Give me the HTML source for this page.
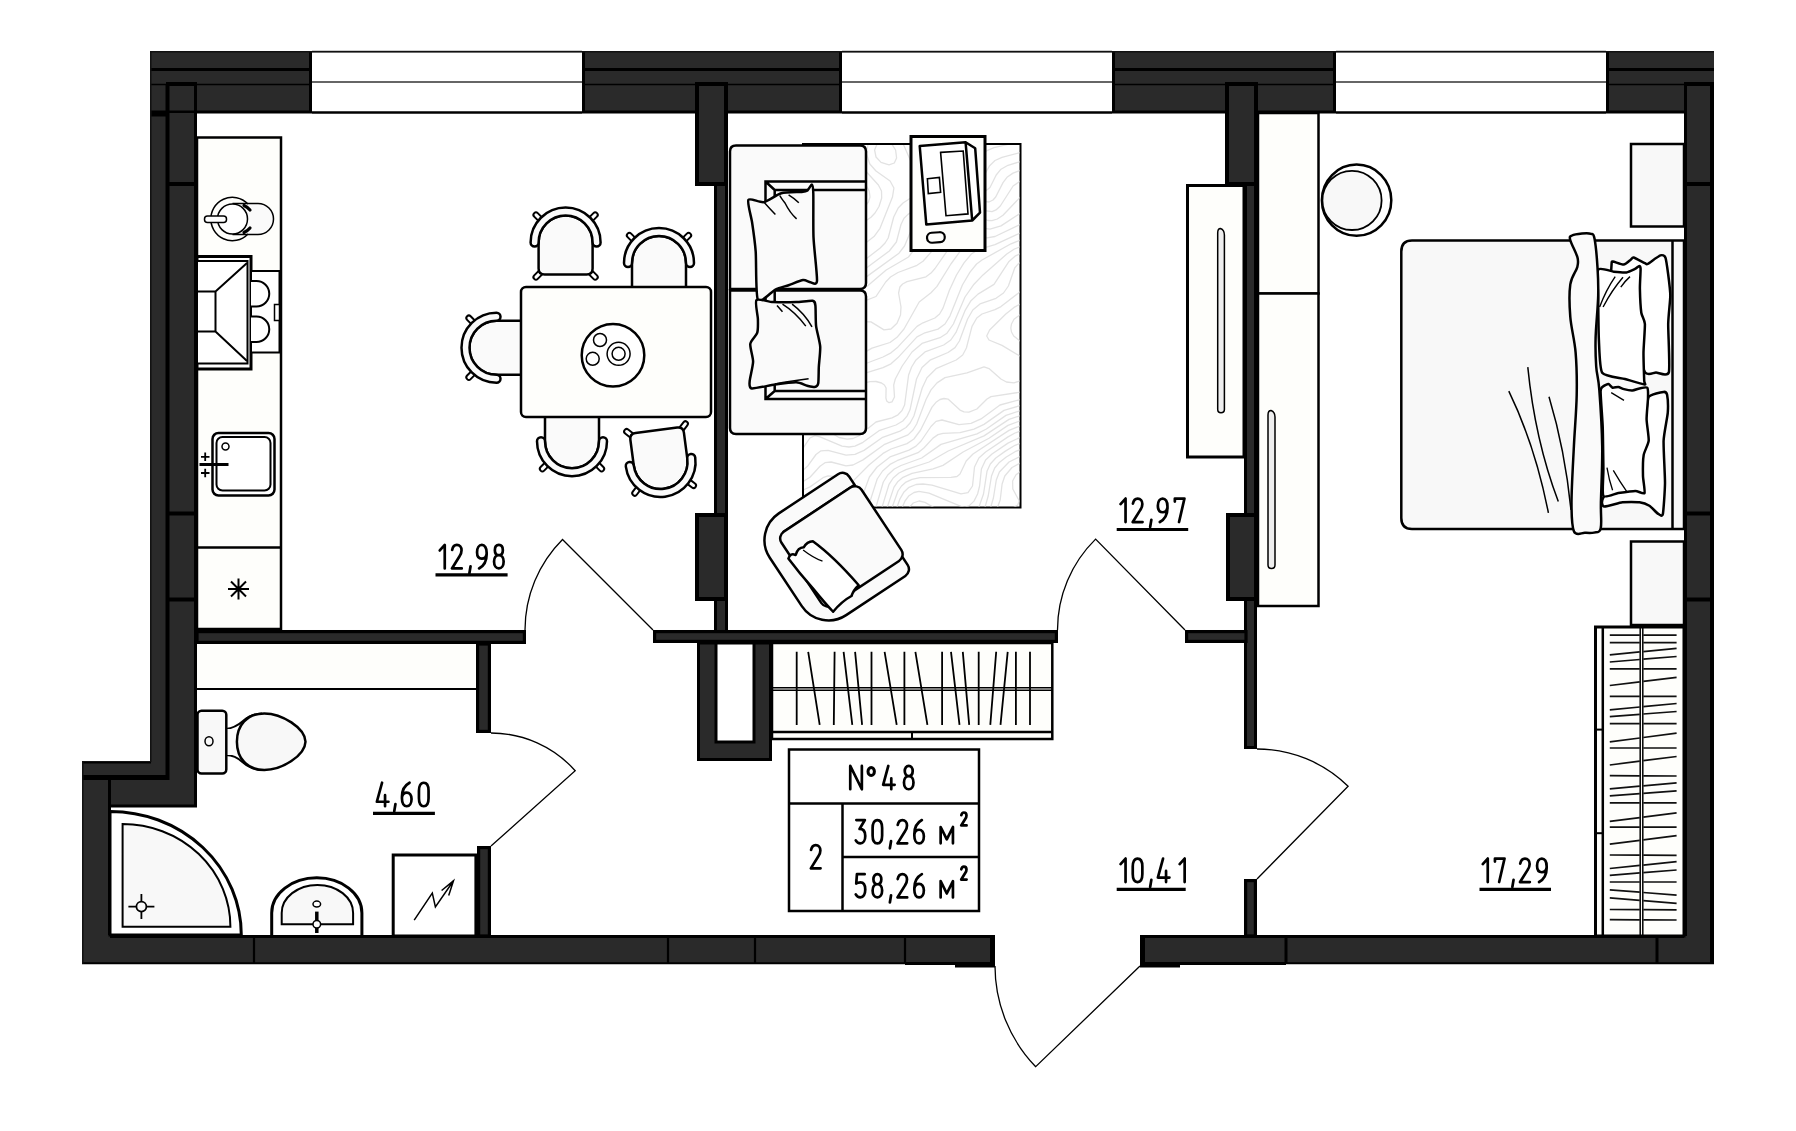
<!DOCTYPE html>
<html><head><meta charset="utf-8"><style>
html,body{margin:0;padding:0;background:#fff;}
svg{display:block;}
text{font-family:"Liberation Sans",sans-serif;}
</style></head><body>
<svg width="1796" height="1131" viewBox="0 0 1796 1131">
<rect x="0" y="0" width="1796" height="1131" fill="#fff"/>
<rect x="150" y="51" width="162" height="62" fill="#2a2a2a"/>
<line x1="150" y1="69.5" x2="312" y2="69.5" stroke="#000" stroke-width="3" />
<line x1="150" y1="84.5" x2="312" y2="84.5" stroke="#000" stroke-width="1.5" />
<line x1="150" y1="112" x2="312" y2="112" stroke="#000" stroke-width="3" />
<line x1="310.5" y1="51" x2="310.5" y2="113" stroke="#000" stroke-width="3" />
<rect x="582" y="51" width="260" height="62" fill="#2a2a2a"/>
<line x1="582" y1="69.5" x2="842" y2="69.5" stroke="#000" stroke-width="3" />
<line x1="582" y1="84.5" x2="842" y2="84.5" stroke="#000" stroke-width="1.5" />
<line x1="582" y1="112" x2="842" y2="112" stroke="#000" stroke-width="3" />
<line x1="583.5" y1="51" x2="583.5" y2="113" stroke="#000" stroke-width="3" />
<line x1="840.5" y1="51" x2="840.5" y2="113" stroke="#000" stroke-width="3" />
<rect x="1112" y="51" width="224" height="62" fill="#2a2a2a"/>
<line x1="1112" y1="69.5" x2="1336" y2="69.5" stroke="#000" stroke-width="3" />
<line x1="1112" y1="84.5" x2="1336" y2="84.5" stroke="#000" stroke-width="1.5" />
<line x1="1112" y1="112" x2="1336" y2="112" stroke="#000" stroke-width="3" />
<line x1="1113.5" y1="51" x2="1113.5" y2="113" stroke="#000" stroke-width="3" />
<line x1="1334.5" y1="51" x2="1334.5" y2="113" stroke="#000" stroke-width="3" />
<rect x="1606" y="51" width="108" height="62" fill="#2a2a2a"/>
<line x1="1606" y1="69.5" x2="1714" y2="69.5" stroke="#000" stroke-width="3" />
<line x1="1606" y1="84.5" x2="1714" y2="84.5" stroke="#000" stroke-width="1.5" />
<line x1="1606" y1="112" x2="1714" y2="112" stroke="#000" stroke-width="3" />
<line x1="1607.5" y1="51" x2="1607.5" y2="113" stroke="#000" stroke-width="3" />
<line x1="312" y1="51.5" x2="582" y2="51.5" stroke="#333" stroke-width="1.5" />
<line x1="312" y1="82" x2="582" y2="82" stroke="#333" stroke-width="1.5" />
<line x1="312" y1="112.5" x2="582" y2="112.5" stroke="#000" stroke-width="2.5" />
<line x1="842" y1="51.5" x2="1112" y2="51.5" stroke="#333" stroke-width="1.5" />
<line x1="842" y1="82" x2="1112" y2="82" stroke="#333" stroke-width="1.5" />
<line x1="842" y1="112.5" x2="1112" y2="112.5" stroke="#000" stroke-width="2.5" />
<line x1="1336" y1="51.5" x2="1606" y2="51.5" stroke="#333" stroke-width="1.5" />
<line x1="1336" y1="82" x2="1606" y2="82" stroke="#333" stroke-width="1.5" />
<line x1="1336" y1="112.5" x2="1606" y2="112.5" stroke="#000" stroke-width="2.5" />
<rect x="150" y="113" width="47" height="694" fill="#2a2a2a"/>
<rect x="82" y="761" width="115" height="46" fill="#2a2a2a"/>
<rect x="82" y="761" width="29" height="203" fill="#2a2a2a"/>
<line x1="167.5" y1="84" x2="167.5" y2="780" stroke="#000" stroke-width="4" />
<line x1="195.5" y1="84" x2="195.5" y2="807" stroke="#000" stroke-width="3" />
<line x1="166" y1="84" x2="197" y2="84" stroke="#000" stroke-width="4" />
<line x1="150" y1="114" x2="166" y2="114" stroke="#000" stroke-width="5" />
<line x1="166" y1="184" x2="197" y2="184" stroke="#000" stroke-width="4" />
<line x1="166" y1="513.5" x2="197" y2="513.5" stroke="#000" stroke-width="4" />
<line x1="166" y1="599.5" x2="197" y2="599.5" stroke="#000" stroke-width="4" />
<line x1="82" y1="777.5" x2="169" y2="777.5" stroke="#000" stroke-width="5" />
<line x1="82" y1="762.5" x2="151" y2="762.5" stroke="#000" stroke-width="2" />
<line x1="111" y1="806" x2="197" y2="806" stroke="#000" stroke-width="3" />
<line x1="109.5" y1="780" x2="109.5" y2="936" stroke="#000" stroke-width="3" />
<rect x="82" y="935" width="913" height="29" fill="#2a2a2a"/>
<line x1="110" y1="936.5" x2="995" y2="936.5" stroke="#000" stroke-width="3" />
<line x1="254" y1="935" x2="254" y2="964" stroke="#000" stroke-width="2.2" />
<line x1="668" y1="935" x2="668" y2="964" stroke="#000" stroke-width="2.2" />
<line x1="755" y1="935" x2="755" y2="964" stroke="#000" stroke-width="2.2" />
<line x1="905" y1="935" x2="905" y2="964" stroke="#000" stroke-width="2.2" />
<line x1="992.5" y1="935" x2="992.5" y2="967" stroke="#000" stroke-width="5" />
<line x1="905" y1="963.5" x2="995" y2="963.5" stroke="#000" stroke-width="3" />
<line x1="955" y1="966" x2="995" y2="966" stroke="#000" stroke-width="3" />
<rect x="1140" y="935" width="574" height="29" fill="#2a2a2a"/>
<line x1="1140" y1="936.5" x2="1714" y2="936.5" stroke="#000" stroke-width="3" />
<line x1="1142.5" y1="935" x2="1142.5" y2="967" stroke="#000" stroke-width="5" />
<line x1="1140" y1="963.5" x2="1286" y2="963.5" stroke="#000" stroke-width="3" />
<line x1="1140" y1="966" x2="1180" y2="966" stroke="#000" stroke-width="3" />
<line x1="1286" y1="935" x2="1286" y2="964" stroke="#000" stroke-width="3" />
<line x1="1657" y1="935" x2="1657" y2="964" stroke="#000" stroke-width="3" />
<rect x="1684" y="82" width="30" height="882" fill="#2a2a2a"/>
<line x1="1685.5" y1="82" x2="1685.5" y2="936" stroke="#000" stroke-width="3" />
<line x1="1712" y1="82" x2="1712" y2="964" stroke="#000" stroke-width="4" />
<line x1="1684" y1="84" x2="1714" y2="84" stroke="#000" stroke-width="4" />
<line x1="1684" y1="184" x2="1714" y2="184" stroke="#000" stroke-width="4" />
<line x1="1684" y1="513.5" x2="1714" y2="513.5" stroke="#000" stroke-width="4" />
<line x1="1684" y1="599.5" x2="1714" y2="599.5" stroke="#000" stroke-width="4" />
<line x1="82" y1="963.2" x2="995" y2="963.2" stroke="#000" stroke-width="2" />
<line x1="1140" y1="963.2" x2="1714" y2="963.2" stroke="#000" stroke-width="2" />
<line x1="150" y1="51.8" x2="1714" y2="51.8" stroke="#111" stroke-width="1.5" />
<line x1="150.8" y1="51" x2="150.8" y2="762" stroke="#111" stroke-width="1.5" />
<line x1="82.8" y1="761" x2="82.8" y2="964" stroke="#111" stroke-width="1.5" />
<rect x="695" y="82" width="33" height="104" fill="#2a2a2a"/>
<rect x="697" y="84" width="29" height="100" rx="0" fill="none" stroke="#000" stroke-width="4" />
<rect x="714" y="186" width="14" height="444" fill="#2a2a2a"/>
<line x1="715.5" y1="186" x2="715.5" y2="513" stroke="#000" stroke-width="3" />
<line x1="726.5" y1="186" x2="726.5" y2="630" stroke="#000" stroke-width="3" />
<rect x="695" y="513" width="33" height="88" fill="#2a2a2a"/>
<rect x="697" y="515" width="29" height="84" rx="0" fill="none" stroke="#000" stroke-width="4" />
<line x1="715.5" y1="601" x2="715.5" y2="630" stroke="#000" stroke-width="3" />
<rect x="1225" y="82" width="33" height="104" fill="#2a2a2a"/>
<rect x="1227" y="84" width="29" height="100" rx="0" fill="none" stroke="#000" stroke-width="4" />
<rect x="1244" y="186" width="13" height="563" fill="#2a2a2a"/>
<line x1="1245.5" y1="186" x2="1245.5" y2="749" stroke="#000" stroke-width="3" />
<line x1="1255.5" y1="186" x2="1255.5" y2="749" stroke="#000" stroke-width="3" />
<line x1="1244" y1="747.5" x2="1257" y2="747.5" stroke="#000" stroke-width="3" />
<rect x="1226" y="513" width="32" height="88" fill="#2a2a2a"/>
<rect x="1228" y="515" width="28" height="84" rx="0" fill="none" stroke="#000" stroke-width="4" />
<rect x="1244" y="879" width="13" height="57" fill="#2a2a2a"/>
<rect x="1245.6" y="880.6" width="9.800000000000182" height="55.39999999999998" rx="0" fill="none" stroke="#000" stroke-width="3.2" />
<rect x="197" y="630" width="329" height="14" fill="#2a2a2a"/>
<rect x="197" y="631.6" width="327.4" height="10.799999999999955" rx="0" fill="none" stroke="#000" stroke-width="3.2" />
<rect x="476" y="644" width="15" height="89" fill="#2a2a2a"/>
<rect x="477.6" y="644" width="11.799999999999955" height="87.39999999999998" rx="0" fill="none" stroke="#000" stroke-width="3.2" />
<rect x="653" y="630" width="405" height="13" fill="#2a2a2a"/>
<rect x="654.6" y="631.6" width="401.80000000000007" height="9.799999999999955" rx="0" fill="none" stroke="#000" stroke-width="3.2" />
<rect x="1185" y="630" width="61" height="13" fill="#2a2a2a"/>
<rect x="1186.6" y="631.6" width="59.40000000000009" height="9.799999999999955" rx="0" fill="none" stroke="#000" stroke-width="3.2" />
<rect x="697" y="643" width="75" height="118" fill="#2a2a2a"/>
<rect x="698.5" y="643" width="72.0" height="116.5" rx="0" fill="none" stroke="#000" stroke-width="3" />
<rect x="716" y="643" width="38" height="99" rx="0" fill="#fff" stroke="#000" stroke-width="3" />
<rect x="477" y="846" width="14" height="90" fill="#2a2a2a"/>
<rect x="478.6" y="847.6" width="10.799999999999955" height="88.39999999999998" rx="0" fill="none" stroke="#000" stroke-width="3.2" />
<rect x="197" y="137.5" width="84" height="491.5" rx="0" fill="#fefefb" stroke="#000" stroke-width="2.5" />
<line x1="197" y1="547.5" x2="281" y2="547.5" stroke="#000" stroke-width="2.5" />
<path d="M232.5,203.5 L258,203.5 A15.5,15.5 0 0 1 258,234.5 L232.5,234.5" fill="#fafafa" stroke="#000" stroke-width="1.5" />
<circle cx="232.5" cy="219" r="15" fill="#fff" stroke="#000" stroke-width="1.5"/>
<path d="M211,221 A21.5,21.5 0 0 1 248,204 M211,217 A21.5,21.5 0 0 0 248,234" fill="none" stroke="#000" stroke-width="1.5" />
<path d="M244,205.5 A17,17 0 0 1 250,210 M244,232.5 A17,17 0 0 0 250,228" fill="none" stroke="#000" stroke-width="3.2" stroke-linecap="round"/>
<rect x="204.5" y="216" width="22.0" height="6.5" rx="3" fill="#fff" stroke="#000" stroke-width="1.5" />
<rect x="197" y="256.5" width="54" height="112.5" rx="0" fill="#fff" stroke="#000" stroke-width="3" />
<rect x="197" y="261" width="50.5" height="102.5" rx="0" fill="#fff" stroke="#000" stroke-width="2" />
<path d="M197,291.5 L215.5,291.5 L247,263 M215.5,291.5 L215.5,331.5 L197,331.5 M215.5,331.5 L247,361" fill="none" stroke="#000" stroke-width="2" />
<rect x="251" y="271" width="28.5" height="81.5" rx="0" fill="#fff" stroke="#000" stroke-width="2" />
<path d="M251,281 L256.5,281 A12.75,12.75 0 0 1 256.5,306.5 L251,306.5 M251,316.5 L256.5,316.5 A12.75,12.75 0 0 1 256.5,342 L251,342" fill="#fff" stroke="#000" stroke-width="2" />
<rect x="274.5" y="304.5" width="5.0" height="16.0" rx="0" fill="#fff" stroke="#000" stroke-width="1.5" />
<rect x="212.5" y="433" width="62.0" height="62.5" rx="6" fill="#fff" stroke="#000" stroke-width="2.5" />
<rect x="216.5" y="437" width="54.0" height="53.5" rx="6" fill="#fff" stroke="#000" stroke-width="2" />
<circle cx="225.5" cy="446.5" r="3.5" fill="#fff" stroke="#000" stroke-width="1.5"/>
<line x1="199.5" y1="464.5" x2="228.5" y2="464.5" stroke="#000" stroke-width="3" />
<path d="M201,456.8 h8.5 M205.2,452.5 v8.5 M201,473 h8.5 M205.2,468.8 v8.5" fill="none" stroke="#000" stroke-width="1.8" />
<path d="M228,589 h21 M238.5,578.5 v21 M231,581.5 l15,15 M246,581.5 l-15,15" fill="none" stroke="#000" stroke-width="2" />
<g transform="translate(565.6,243.5) rotate(0)"><rect x="-33.0" y="-29.0" width="11" height="5" rx="2.5" transform="rotate(45 -27.5 -26.5)" fill="#fff" stroke="#000" stroke-width="2"/><rect x="22.0" y="-29.0" width="11" height="5" rx="2.5" transform="rotate(-45 27.5 -26.5)" fill="#fff" stroke="#000" stroke-width="2"/><rect x="-33.0" y="29.0" width="11" height="5" rx="2.5" transform="rotate(-45 -27.5 31.5)" fill="#fff" stroke="#000" stroke-width="2"/><rect x="22.0" y="29.0" width="11" height="5" rx="2.5" transform="rotate(45 27.5 31.5)" fill="#fff" stroke="#000" stroke-width="2"/><path d="M-27,-1 A27,27 0 0 1 27,-1 L27,25 Q27,31 21,31 L-21,31 Q-27,31 -27,25 Z" fill="#fafafa" stroke="#000" stroke-width="2.5"/><path d="M-35,-1 A35,35 0 0 1 35,-1 A4,4 0 0 1 27,-1 A27,27 0 0 0 -27,-1 A4,4 0 0 1 -35,-1 Z" fill="#fafafa" stroke="#000" stroke-width="2.5" stroke-linejoin="round"/></g>
<g transform="translate(659,264) rotate(0)"><rect x="-33.0" y="-29.0" width="11" height="5" rx="2.5" transform="rotate(45 -27.5 -26.5)" fill="#fff" stroke="#000" stroke-width="2"/><rect x="22.0" y="-29.0" width="11" height="5" rx="2.5" transform="rotate(-45 27.5 -26.5)" fill="#fff" stroke="#000" stroke-width="2"/><rect x="-33.0" y="28.0" width="11" height="5" rx="2.5" transform="rotate(-45 -27.5 30.5)" fill="#fff" stroke="#000" stroke-width="2"/><rect x="22.0" y="28.0" width="11" height="5" rx="2.5" transform="rotate(45 27.5 30.5)" fill="#fff" stroke="#000" stroke-width="2"/><path d="M-27,-1 A27,27 0 0 1 27,-1 L27,24 Q27,30 21,30 L-21,30 Q-27,30 -27,24 Z" fill="#fafafa" stroke="#000" stroke-width="2.5"/><path d="M-35,-1 A35,35 0 0 1 35,-1 A4,4 0 0 1 27,-1 A27,27 0 0 0 -27,-1 A4,4 0 0 1 -35,-1 Z" fill="#fafafa" stroke="#000" stroke-width="2.5" stroke-linejoin="round"/></g>
<g transform="translate(497.5,347.7) rotate(-90)"><rect x="-33.0" y="-29.0" width="11" height="5" rx="2.5" transform="rotate(45 -27.5 -26.5)" fill="#fff" stroke="#000" stroke-width="2"/><rect x="22.0" y="-29.0" width="11" height="5" rx="2.5" transform="rotate(-45 27.5 -26.5)" fill="#fff" stroke="#000" stroke-width="2"/><rect x="-33.0" y="28.0" width="11" height="5" rx="2.5" transform="rotate(-45 -27.5 30.5)" fill="#fff" stroke="#000" stroke-width="2"/><rect x="22.0" y="28.0" width="11" height="5" rx="2.5" transform="rotate(45 27.5 30.5)" fill="#fff" stroke="#000" stroke-width="2"/><path d="M-27,-1 A27,27 0 0 1 27,-1 L27,24 Q27,30 21,30 L-21,30 Q-27,30 -27,24 Z" fill="#fafafa" stroke="#000" stroke-width="2.5"/><path d="M-35,-1 A35,35 0 0 1 35,-1 A4,4 0 0 1 27,-1 A27,27 0 0 0 -27,-1 A4,4 0 0 1 -35,-1 Z" fill="#fafafa" stroke="#000" stroke-width="2.5" stroke-linejoin="round"/></g>
<g transform="translate(572,440.2) rotate(180)"><rect x="-33.0" y="-29.0" width="11" height="5" rx="2.5" transform="rotate(45 -27.5 -26.5)" fill="#fff" stroke="#000" stroke-width="2"/><rect x="22.0" y="-29.0" width="11" height="5" rx="2.5" transform="rotate(-45 27.5 -26.5)" fill="#fff" stroke="#000" stroke-width="2"/><rect x="-33.0" y="28.0" width="11" height="5" rx="2.5" transform="rotate(-45 -27.5 30.5)" fill="#fff" stroke="#000" stroke-width="2"/><rect x="22.0" y="28.0" width="11" height="5" rx="2.5" transform="rotate(45 27.5 30.5)" fill="#fff" stroke="#000" stroke-width="2"/><path d="M-27,-1 A27,27 0 0 1 27,-1 L27,24 Q27,30 21,30 L-21,30 Q-27,30 -27,24 Z" fill="#fafafa" stroke="#000" stroke-width="2.5"/><path d="M-35,-1 A35,35 0 0 1 35,-1 A4,4 0 0 1 27,-1 A27,27 0 0 0 -27,-1 A4,4 0 0 1 -35,-1 Z" fill="#fafafa" stroke="#000" stroke-width="2.5" stroke-linejoin="round"/></g>
<g transform="translate(660.4,461) rotate(172.5)"><rect x="-33.0" y="-29.0" width="11" height="5" rx="2.5" transform="rotate(45 -27.5 -26.5)" fill="#fff" stroke="#000" stroke-width="2"/><rect x="22.0" y="-29.0" width="11" height="5" rx="2.5" transform="rotate(-45 27.5 -26.5)" fill="#fff" stroke="#000" stroke-width="2"/><rect x="-33.0" y="29.0" width="11" height="5" rx="2.5" transform="rotate(-45 -27.5 31.5)" fill="#fff" stroke="#000" stroke-width="2"/><rect x="22.0" y="29.0" width="11" height="5" rx="2.5" transform="rotate(45 27.5 31.5)" fill="#fff" stroke="#000" stroke-width="2"/><path d="M-27,-1 A27,27 0 0 1 27,-1 L27,25 Q27,31 21,31 L-21,31 Q-27,31 -27,25 Z" fill="#fafafa" stroke="#000" stroke-width="2.5"/><path d="M-35,-1 A35,35 0 0 1 35,-1 A4,4 0 0 1 27,-1 A27,27 0 0 0 -27,-1 A4,4 0 0 1 -35,-1 Z" fill="#fafafa" stroke="#000" stroke-width="2.5" stroke-linejoin="round"/></g>
<rect x="521" y="287" width="190" height="130" rx="5" fill="#fefefb" stroke="#000" stroke-width="2.5" />
<circle cx="613" cy="355.2" r="31.3" fill="#fff" stroke="#000" stroke-width="2.5"/>
<circle cx="600" cy="340" r="6.5" fill="none" stroke="#000" stroke-width="1.5"/>
<circle cx="592.7" cy="358.8" r="6.5" fill="none" stroke="#000" stroke-width="1.5"/>
<circle cx="618.6" cy="353.8" r="11.5" fill="none" stroke="#000" stroke-width="1.5"/>
<circle cx="618.6" cy="353.8" r="6.5" fill="none" stroke="#000" stroke-width="1.5"/>
<g>
<rect x="803" y="144" width="217.5" height="363.5" rx="0" fill="#fff" stroke="#000" stroke-width="2" />
<clipPath id="rugclip"><rect x="804" y="145" width="215.5" height="361.5"/></clipPath>
<g clip-path="url(#rugclip)" stroke="#e2e2e2" stroke-width="1.3" fill="none" stroke-linejoin="round">
<path d="M814.1,143.0 L828.0,149.6 L832.0,150.5 L836.0,148.6 L841.3,143.0 M803.0,226.8 L813.0,221.5 L830.0,216.2 L837.1,212.0 L846.0,202.0 L848.1,197.0 L848.9,191.0 L847.7,184.0 L844.0,175.6 L839.0,168.9 L834.0,166.1 L829.0,168.5 L817.0,182.2 L812.0,186.5 L807.0,187.8 L803.0,186.3 M803.0,241.6 L839.0,220.4 L849.1,211.0 L856.4,201.0 L858.2,195.0 L857.9,189.0 L849.6,166.0 L847.8,158.0 L848.1,151.0 L850.3,143.0 M803.0,255.9 L843.0,226.8 L862.9,209.0 L868.4,202.0 L870.0,197.0 L869.2,191.0 L859.0,172.0 L855.3,161.0 L854.6,152.0 L856.4,143.0 M919.3,143.0 L926.0,151.0 L930.0,153.0 L935.0,153.8 L944.8,151.0 L954.1,143.0 M803.0,268.4 L811.0,263.6 L826.0,250.8 L842.0,239.9 L858.0,226.1 L871.0,217.2 L875.0,213.0 L879.0,206.5 L881.7,198.0 L881.5,191.0 L878.4,185.0 L867.0,172.5 L862.8,165.0 L860.4,154.0 L862.0,143.0 M911.1,143.0 L916.0,152.5 L921.0,158.6 L927.0,161.9 L935.0,162.9 L950.0,161.6 L958.0,159.1 L972.6,143.0 M803.0,278.9 L812.0,274.0 L832.0,259.4 L859.2,248.0 L874.0,236.6 L880.0,228.3 L892.5,197.0 L893.9,188.0 L890.1,181.0 L876.0,171.0 L869.8,164.0 L866.6,154.0 L868.1,143.0 M902.8,143.0 L912.0,164.1 L918.0,170.4 L925.0,171.7 L946.0,170.4 L964.0,172.6 L969.0,172.0 L973.0,169.5 L980.9,156.0 L987.0,150.6 L994.0,147.7 L1013.8,143.0 M891.1,143.0 L895.6,150.0 L896.6,158.0 L894.3,163.0 L889.0,164.8 L881.0,162.4 L876.0,157.0 L874.6,150.0 L877.5,143.0 M803.0,289.7 L812.0,284.8 L832.0,270.5 L839.0,267.6 L860.0,262.3 L867.3,258.0 L880.2,248.0 L885.1,243.0 L888.2,238.0 L893.7,217.0 L898.2,208.0 L903.0,203.0 L915.0,195.3 L924.3,185.0 L929.0,181.2 L936.6,178.0 L945.0,177.1 L970.0,182.1 L978.0,181.7 L982.8,178.0 L989.4,166.0 L995.0,160.5 L1002.0,157.4 L1022.0,152.1 M803.0,301.2 L814.0,295.5 L835.3,279.0 L842.0,276.3 L858.0,272.4 L865.0,269.1 L889.3,251.0 L896.4,242.0 L901.0,224.5 L904.0,218.3 L908.0,214.4 L920.0,206.6 L930.4,191.0 L935.9,186.0 L942.0,183.6 L950.0,183.4 L977.0,191.4 L985.0,191.6 L990.0,187.5 L996.2,175.0 L1001.0,169.2 L1008.0,165.3 L1022.0,161.1 M803.0,310.8 L821.4,303.0 L841.0,286.7 L866.0,277.1 L899.0,253.2 L904.5,246.0 L911.7,229.0 L924.0,217.2 L934.0,197.8 L940.0,191.4 L947.0,189.1 L955.0,189.8 L965.0,193.2 L982.0,201.2 L989.0,202.0 L993.0,200.0 L995.7,197.0 L1003.0,182.6 L1007.0,177.3 L1013.0,173.1 L1022.0,169.7 M803.0,318.2 L827.0,312.4 L833.0,310.1 L848.0,295.2 L868.0,285.6 L886.2,270.0 L908.5,257.0 L929.0,230.5 L932.0,223.9 L937.6,205.0 L940.6,200.0 L944.0,196.9 L950.0,195.1 L958.0,196.2 L967.1,200.0 L984.0,210.5 L992.0,211.6 L996.0,209.9 L1000.3,206.0 L1013.1,186.0 L1022.0,179.9 M803.0,324.8 L821.0,322.4 L838.0,326.3 L842.0,325.8 L845.9,322.0 L855.0,306.8 L861.0,302.4 L876.0,296.5 L885.7,282.0 L890.5,277.0 L898.0,272.5 L917.0,265.3 L923.0,261.3 L933.0,249.9 L939.5,240.0 L941.4,233.0 L942.5,213.0 L944.8,207.0 L948.0,203.6 L954.0,202.0 L961.0,203.5 L968.0,207.3 L983.0,218.7 L988.0,220.5 L992.0,220.6 L997.3,219.0 L1003.0,215.2 L1022.0,195.3 M803.0,331.3 L814.0,329.7 L822.2,331.0 L828.8,335.0 L839.0,345.4 L845.0,347.5 L849.0,346.4 L852.8,343.0 L860.0,326.9 L865.0,321.6 L871.0,321.9 L884.0,329.9 L891.0,329.0 L897.0,323.3 L900.5,315.0 L901.0,307.0 L898.6,293.0 L899.9,287.0 L902.6,284.0 L907.0,281.6 L926.0,276.8 L931.0,273.1 L935.0,268.5 L948.6,249.0 L952.1,242.0 L953.5,234.0 L952.1,219.0 L954.0,214.0 L957.0,212.4 L962.0,213.2 L979.0,226.1 L984.0,228.3 L990.0,229.1 L1001.0,225.9 L1022.0,212.2 M803.0,339.3 L812.0,337.9 L819.0,339.6 L824.0,343.8 L833.4,357.0 L838.0,359.7 L843.0,360.7 L853.0,358.9 L872.0,348.1 L890.0,342.5 L897.0,337.3 L904.0,329.0 L919.2,302.0 L931.0,292.8 L937.0,286.4 L950.9,264.0 L968.0,240.5 L974.0,237.6 L987.0,237.9 L995.0,236.5 L1022.0,223.6 M803.0,377.0 L815.0,366.0 L833.0,370.3 L845.0,370.0 L861.9,365.0 L883.0,357.0 L891.0,352.8 L898.0,346.9 L917.0,326.4 L923.0,322.8 L934.9,318.0 L939.6,314.0 L943.0,308.1 L949.5,290.0 L956.5,275.0 L964.0,262.8 L971.4,254.0 L978.0,249.6 L995.0,244.7 L1022.0,232.2 M803.0,390.1 L841.0,380.6 L883.0,367.6 L891.0,363.8 L898.0,357.6 L917.0,336.9 L924.0,333.2 L938.0,329.1 L945.0,324.0 L950.0,315.8 L962.4,285.0 L970.0,272.1 L976.6,264.0 L982.0,260.0 L1011.0,243.8 L1022.0,239.5 M803.0,400.3 L814.0,398.4 L819.0,399.1 L823.3,401.0 L826.7,405.0 L831.0,418.0 L834.4,424.0 L840.0,428.8 L846.0,430.4 L851.0,429.6 L855.4,427.0 L858.9,423.0 L861.3,418.0 L861.2,410.0 L852.5,395.0 L853.6,390.0 L858.0,385.9 L863.9,383.0 L870.0,381.6 L876.0,381.5 L881.5,383.0 L884.4,385.0 L886.1,388.0 L885.9,398.0 L886.7,401.0 L889.0,402.7 L892.0,401.9 L894.5,397.0 L893.7,385.0 L895.3,379.0 L902.2,366.0 L912.0,352.0 L922.0,343.4 L940.0,337.7 L947.0,333.2 L953.4,324.0 L965.0,297.0 L974.0,284.2 L983.0,274.9 L1006.8,254.0 L1014.4,249.0 L1022.0,246.1 M803.0,413.0 L809.0,411.5 L814.0,412.8 L818.0,416.3 L825.5,427.0 L831.4,433.0 L839.0,437.5 L847.0,439.2 L853.0,438.5 L858.6,436.0 L876.0,422.0 L892.0,417.8 L898.0,414.8 L902.0,410.5 L904.6,405.0 L908.6,375.0 L911.6,367.0 L916.0,359.9 L925.0,351.9 L943.7,345.0 L950.8,340.0 L956.0,332.4 L965.0,310.7 L971.0,300.7 L978.0,294.1 L994.0,284.4 L1009.0,261.4 L1015.0,256.2 L1022.0,252.9 M803.0,448.2 L809.9,438.0 L815.0,435.7 L820.0,436.8 L842.0,446.2 L849.0,447.0 L855.0,446.1 L863.0,442.3 L879.0,430.7 L896.0,425.0 L902.8,421.0 L907.0,416.1 L910.0,409.8 L916.5,379.0 L922.0,367.5 L930.0,360.2 L948.0,352.5 L955.0,347.6 L959.4,341.0 L967.6,319.0 L972.8,310.0 L980.0,303.9 L996.0,298.3 L1003.5,293.0 L1008.4,286.0 L1014.7,268.0 L1018.0,264.1 L1022.0,261.5 M803.0,470.2 L808.0,465.7 L816.0,454.5 L821.0,450.8 L828.0,450.4 L846.0,455.2 L855.0,454.4 L864.0,450.4 L882.0,437.7 L900.0,431.1 L906.0,427.5 L910.1,423.0 L913.9,416.0 L922.2,388.0 L927.0,377.7 L936.0,368.7 L956.2,360.0 L962.7,355.0 L966.4,348.0 L972.0,326.3 L976.8,318.0 L982.0,314.0 L995.0,309.7 L1001.0,306.6 L1022.0,290.3 M1022.0,357.3 L1002.0,345.4 L989.0,340.0 L986.7,336.0 L989.6,330.0 L1005.8,314.0 L1014.0,307.4 L1022.0,303.1 M803.0,481.6 L810.0,477.3 L820.0,466.3 L825.0,462.7 L831.1,462.0 L846.0,465.8 L853.0,465.0 L863.0,459.9 L884.0,444.7 L908.0,434.9 L913.0,430.0 L916.7,424.0 L926.0,399.5 L931.0,389.9 L937.0,382.9 L945.0,377.6 L967.0,372.9 L984.0,366.8 L989.0,368.6 L1000.9,379.0 L1006.4,382.0 L1014.0,382.9 L1022.0,380.2 M1022.0,342.6 L1013.7,336.0 L1011.5,332.0 L1010.8,328.0 L1011.5,324.0 L1014.0,319.3 L1022.0,313.2 M803.0,490.1 L810.0,486.9 L823.0,477.7 L828.0,475.9 L834.0,476.5 L847.0,482.1 L853.0,481.1 L869.0,465.0 L883.0,453.4 L891.0,449.0 L907.0,443.6 L913.9,439.0 L920.6,430.0 L932.0,407.1 L936.0,402.3 L940.0,399.5 L944.0,398.5 L948.0,399.1 L960.0,410.1 L964.0,411.9 L969.0,412.2 L976.9,409.0 L987.0,399.0 L991.0,396.6 L1022.0,391.9 M803.0,498.4 L822.0,488.9 L829.0,487.8 L837.0,491.1 L851.0,502.5 L854.0,503.5 L857.0,502.9 L862.0,497.1 L869.4,477.0 L877.1,467.0 L890.0,456.9 L909.0,450.1 L916.0,446.1 L921.1,441.0 L931.0,426.5 L936.0,421.4 L942.0,420.0 L959.0,424.6 L971.0,423.3 L981.0,418.9 L1000.0,405.0 L1022.0,399.1 M867.9,508.0 L877.2,479.0 L882.6,471.0 L890.0,464.4 L897.0,460.7 L918.0,452.7 L923.9,448.0 L933.0,438.1 L938.0,434.6 L943.0,433.4 L960.0,432.6 L974.0,429.2 L984.0,424.4 L1004.0,410.4 L1022.0,405.0 M806.2,508.0 L818.0,500.3 L826.0,498.1 L833.0,500.3 L840.7,508.0 M875.7,508.0 L883.3,482.0 L888.0,474.7 L894.3,469.0 L901.0,465.5 L921.7,458.0 L941.0,444.4 L977.0,433.9 L986.4,429.0 L1006.0,415.4 L1022.0,410.1 M881.8,508.0 L889.0,484.4 L893.2,478.0 L899.0,473.0 L906.0,469.6 L929.1,462.0 L948.2,451.0 L984.0,435.9 L1009.0,419.4 L1022.0,415.1 M887.0,508.0 L894.0,487.1 L898.0,481.4 L903.0,477.3 L912.0,473.4 L933.0,468.9 L943.0,465.4 L963.1,452.0 L989.0,438.3 L1008.0,425.4 L1022.0,420.1 M891.9,508.0 L898.0,491.0 L901.5,486.0 L906.0,482.1 L912.0,479.3 L920.0,477.6 L951.0,477.4 L957.0,476.5 L960.0,474.0 L966.2,461.0 L973.0,454.0 L1009.0,430.4 L1022.0,425.2 M896.7,508.0 L900.0,498.8 L904.0,491.9 L909.0,487.3 L916.0,484.5 L923.0,484.0 L932.0,485.2 L961.0,493.9 L968.0,492.7 L972.5,486.0 L974.5,467.0 L978.9,458.0 L985.6,452.0 L1008.0,436.9 L1015.0,433.0 L1022.0,430.6 M902.0,508.0 L905.0,501.0 L909.0,495.7 L914.0,492.5 L919.0,491.4 L929.0,493.1 L961.0,506.4 L965.0,507.1 L969.0,505.9 L974.0,501.1 L977.6,494.0 L979.6,486.0 L981.4,469.0 L985.6,460.0 L992.0,454.0 L1008.0,443.1 L1022.0,436.5 M978.6,508.0 L983.5,494.0 L987.0,471.3 L990.3,464.0 L995.8,458.0 L1005.0,451.4 L1015.0,445.3 L1022.0,442.7 M908.9,508.0 L913.2,503.0 L919.0,501.0 L925.0,502.4 L934.6,508.0 M984.8,508.0 L988.2,496.0 L991.5,476.0 L994.7,468.0 L999.0,462.8 L1006.3,457.0 L1015.0,451.7 L1022.0,449.0 M990.5,508.0 L993.4,498.0 L996.3,480.0 L999.4,472.0 L1009.0,462.0 L1022.0,455.4 M997.2,508.0 L1000.2,500.0 L1002.1,484.0 L1004.8,476.0 L1012.0,467.5 L1022.0,462.1 M1012.9,508.0 L1017.7,505.0 L1019.3,501.0 L1012.8,489.0 L1012.6,481.0 L1016.0,474.7 L1022.0,470.4"/>
</g></g>
<path d="M736,145.5 H860 Q866,145.5 866,151.5 V283 Q866,289 860,289 H730 V151.5 Q730,145.5 736,145.5 Z" fill="#fafafa" stroke="#000" stroke-width="2.5" />
<path d="M730,290.5 H860 Q866,290.5 866,296.5 V428 Q866,434 860,434 H736 Q730,434 730,428 Z" fill="#fafafa" stroke="#000" stroke-width="2.5" />
<path d="M866,181.5 H765.5 V399 H866 M866,190 H774.7 V391 H866 M765.5,181.5 L774.7,190 M765.5,399 L774.7,391" fill="none" stroke="#000" stroke-width="2.5" />
<path d="M748.4,199.9 C749.8,197.5 760.0,202.9 763.8,202.1 C767.6,201.3 776.9,194.5 781.3,193.3 C785.7,192.1 798.6,192.2 801.7,191.9 C804.8,191.6 806.3,191.3 807.5,190.4 C808.7,189.5 811.2,184.3 811.9,184.6 C812.6,184.9 813.1,187.2 813.3,193.3 C813.5,199.4 813.1,226.9 813.5,237.1 C813.9,247.3 817.4,275.6 817.0,280.9 C816.6,286.2 812.0,282.4 810.4,282.3 C808.8,282.2 805.6,279.8 803.1,280.1 C800.6,280.4 791.8,284.1 788.6,285.2 C785.4,286.3 779.0,287.9 775.4,289.6 C771.8,291.3 760.2,304.4 757.9,300.0 C755.6,295.6 756.4,260.7 755.7,251.7 C755.0,242.7 753.0,228.5 752.1,222.5 C751.2,216.5 747.0,202.3 748.4,199.9 Z" fill="#fafafa" stroke="#000" stroke-width="2.5" stroke-linejoin="round"/>
<path d="M763.8,202 Q770,209 775.4,214.5 M779.8,195.5 Q781,198 785,203 Q790,213 796.6,218.9 M788.6,194.8 Q794,198 798.8,202.8" fill="none" stroke="#000" stroke-width="1.5" />
<path d="M756.5,300.1 C758.3,298.1 768.4,301.9 773.0,302.1 C777.6,302.3 791.6,302.3 796.2,302.1 C800.8,301.9 810.5,300.4 812.7,300.8 C814.9,301.2 815.0,302.5 815.4,305.5 C815.8,308.5 815.5,321.3 816.1,326.1 C816.7,330.9 819.9,341.8 820.2,346.6 C820.5,351.4 819.0,362.9 818.8,367.2 C818.6,371.5 818.7,381.3 818.2,383.6 C817.7,385.9 816.0,386.8 814.7,387.0 C813.4,387.2 809.4,386.2 807.2,385.7 C805.0,385.2 800.0,382.4 796.2,382.3 C792.4,382.2 780.2,383.8 775.0,384.5 C769.8,385.2 754.7,388.8 751.7,388.4 C748.7,388.0 749.5,384.0 749.7,380.9 C749.9,377.8 753.0,366.0 753.1,361.7 C753.2,357.4 749.8,347.3 750.3,343.9 C750.8,340.5 756.3,335.8 757.2,332.9 C758.1,330.0 758.0,323.0 757.9,319.2 C757.8,315.4 754.7,302.1 756.5,300.1 Z" fill="#fafafa" stroke="#000" stroke-width="2.5" stroke-linejoin="round"/>
<path d="M777,305.5 L782.5,311.7 M782.5,304.2 Q795,312 805.8,326.1 M792.1,304.2 Q804,313 812,326.8 M808.6,378.8 Q790,381 775,384" fill="none" stroke="#000" stroke-width="1.5" />
<rect x="911" y="136.5" width="74" height="114.0" rx="0" fill="#fefefb" stroke="#000" stroke-width="3" />
<path d="M919.7,145.9 L965.6,142.3 L972.2,220.5 L926.3,224.6 Z M965.6,142.3 L975.2,148.3 L980,212.7 L972.2,220.5" fill="#fff" stroke="#000" stroke-width="2.5" stroke-linejoin="round"/>
<path d="M940.6,152.4 L963.2,151 L968,213.9 L946,215.7 Z" fill="none" stroke="#000" stroke-width="1.6" />
<path d="M927.4,178.7 L939.4,177.5 L940.6,192.4 L928.3,193.6 Z" fill="none" stroke="#000" stroke-width="1.6" />
<rect x="927" y="232.5" width="17.8" height="10" rx="5" transform="rotate(-4 935.7 237.5)" fill="none" stroke="#000" stroke-width="2.2"/>
<g transform="translate(832.5,551) rotate(-33.5)"><path d="M-24,-61 H47 A8,8 0 0 1 55,-53 V-43 H-30 V43 H55 V53 A8,8 0 0 1 47,61 H-24 A32,32 0 0 1 -56,29 V-29 A32,32 0 0 1 -24,-61 Z" fill="#fafafa" stroke="#000" stroke-width="2.5"/><path d="M-30,-43 H50 A8,8 0 0 1 58,-35 V37 A8,8 0 0 1 50,45 H-30 A8,8 0 0 1 -38,37 V-35 A8,8 0 0 1 -30,-43 Z" fill="#fafafa" stroke="#000" stroke-width="2.5"/><path d="M-41,-18 Q-36,-22 -33,-17 Q-27,-22 -22,-19 Q-16,-22 -11,-19 Q-2,5 3,43 Q-4,44 -9,48 Q-20,47 -33,51 Q-35,40 -37,20 Q-40,0 -41,-18 Z" fill="#fff" stroke="#000" stroke-width="2.5" stroke-linejoin="round"/><path d="M-24,-17 Q-20,-5 -14,3" fill="none" stroke="#000" stroke-width="1.3"/></g>
<rect x="1187.5" y="185.5" width="56.5" height="271.5" rx="0" fill="#fefefb" stroke="#000" stroke-width="3" />
<path d="M1217.7,409.5 V233 Q1217.7,228.5 1220.5,228.5 Q1224.4,230 1224.4,235 V409.5 Q1224.4,412.7 1221,412.7 Q1217.7,412.7 1217.7,409.5 Z" fill="#eee" stroke="#000" stroke-width="1.5" />
<rect x="1258" y="113" width="60.5" height="180.5" rx="0" fill="#fefefb" stroke="#000" stroke-width="2.5" />
<rect x="1258" y="293.5" width="60.5" height="312.5" rx="0" fill="#fefefb" stroke="#000" stroke-width="2.5" />
<path d="M1268,565 V415 Q1268,410.5 1271,410.5 Q1275,412 1275,417 V565 Q1275,568.5 1271.5,568.5 Q1268,568.5 1268,565 Z" fill="#eee" stroke="#000" stroke-width="1.5" />
<ellipse cx="1356.6" cy="200.2" rx="34.7" ry="35.6" fill="#fff" stroke="#000" stroke-width="2.5"/>
<circle cx="1352" cy="200.4" r="29.6" fill="#f8f8f8" stroke="#000" stroke-width="1.8"/>
<rect x="1631" y="144" width="53" height="82.5" rx="0" fill="#f8f8f8" stroke="#000" stroke-width="2.5" />
<rect x="1631" y="541.5" width="53" height="83.5" rx="0" fill="#f8f8f8" stroke="#000" stroke-width="2.5" />
<path d="M1412,240.5 H1684 V529 H1412 Q1401.3,529 1401.3,518 V251.5 Q1401.3,240.5 1412,240.5 Z" fill="#f8f8f8" stroke="#000" stroke-width="2.5" />
<line x1="1672.5" y1="240.5" x2="1672.5" y2="529" stroke="#000" stroke-width="2.5" />
<path d="M1508.8,391.1 Q1535,445 1548.4,512.8 M1527.8,367.1 Q1535,440 1558.3,501.5 M1549,396.8 Q1565,450 1571,510" fill="none" stroke="#000" stroke-width="1.5" />
<path d="M1611.6,263.9 C1611.7,261.0 1611.8,261.4 1613.0,261.5 C1614.2,261.6 1621.9,264.8 1623.7,264.6 C1625.5,264.4 1629.7,260.4 1630.7,259.7 C1631.7,259.0 1632.2,257.1 1633.6,257.5 C1635.0,257.9 1643.5,262.6 1644.9,263.2 C1646.3,263.8 1646.2,264.7 1647.7,263.9 C1649.2,263.1 1658.6,256.0 1660.4,255.4 C1662.2,254.8 1664.6,255.6 1665.4,257.5 C1666.2,259.4 1667.7,270.7 1668.2,274.5 C1668.7,278.3 1670.3,290.8 1670.3,295.7 C1670.3,300.6 1668.3,316.4 1668.2,324.0 C1668.1,331.6 1670.1,367.2 1668.9,372.1 C1667.7,377.0 1658.4,372.5 1656.0,372.5 C1653.6,372.5 1647.5,376.4 1644.9,372.1 C1642.3,367.9 1633.3,338.2 1630.0,330.0 C1626.7,321.8 1613.4,296.6 1611.6,290.0 C1609.8,283.4 1611.5,266.8 1611.6,263.9 Z" fill="#fff" stroke="#000" stroke-width="2.5" stroke-linejoin="round"/>
<path d="M1598.2,269.6 C1599.8,266.8 1611.0,271.4 1613.8,271.7 C1616.6,272.0 1624.4,272.7 1626.5,272.4 C1628.6,272.1 1633.7,269.5 1635.0,268.9 C1636.3,268.3 1638.6,266.0 1639.2,266.0 C1639.8,266.0 1640.5,266.6 1640.6,268.9 C1640.7,271.2 1639.8,284.3 1639.9,288.7 C1640.0,293.1 1640.8,309.2 1641.3,312.7 C1641.8,316.2 1644.7,320.0 1644.9,324.0 C1645.1,328.0 1643.6,346.6 1643.5,352.3 C1643.4,358.0 1644.1,377.4 1644.2,380.6 C1644.3,383.8 1646.4,384.7 1644.5,384.5 C1642.6,384.3 1629.2,380.2 1625.0,379.0 C1620.8,377.8 1604.8,376.7 1602.2,372.8 C1599.6,368.9 1599.3,347.3 1598.9,340.0 C1598.5,332.7 1598.3,307.0 1598.2,300.0 C1598.1,293.0 1596.6,272.4 1598.2,269.6 Z" fill="#fff" stroke="#000" stroke-width="2.5" stroke-linejoin="round"/>
<path d="M1599.6,307 Q1606,290 1615.2,276.6 M1603.1,307 Q1612,290 1623,277.3 M1620.8,287.2 Q1625,281 1630,276.6" fill="none" stroke="#000" stroke-width="1.4" />
<path d="M1648.7,396.9 C1650.6,394.1 1661.8,392.1 1663.6,391.9 C1665.4,391.7 1666.7,392.8 1667.1,394.8 C1667.5,396.9 1668.1,407.8 1667.8,412.4 C1667.5,417.0 1663.9,433.6 1663.6,440.7 C1663.3,447.8 1665.1,475.8 1665.0,483.2 C1664.9,490.6 1663.5,511.3 1662.8,514.3 C1662.1,517.3 1659.2,514.5 1657.9,513.6 C1656.6,512.8 1651.2,506.9 1649.4,505.8 C1647.6,504.7 1642.2,502.7 1639.5,502.3 C1636.8,501.9 1626.0,501.9 1622.5,502.3 C1619.0,502.7 1606.0,507.0 1604.1,506.5 C1602.2,506.0 1600.8,501.9 1603.4,497.3 C1606.0,492.7 1625.8,467.7 1630.0,460.0 C1634.2,452.3 1643.1,426.3 1645.0,420.0 C1646.9,413.7 1646.8,399.7 1648.7,396.9 Z" fill="#fff" stroke="#000" stroke-width="2.5" stroke-linejoin="round"/>
<path d="M1603.4,386.3 C1604.2,385.6 1607.5,384.0 1608.4,384.1 C1609.3,384.2 1611.6,387.4 1612.6,387.7 C1613.6,388.0 1617.2,386.9 1618.3,387.0 C1619.4,387.1 1622.6,388.8 1624.0,389.1 C1625.4,389.5 1630.9,390.6 1632.4,390.5 C1634.0,390.4 1638.0,388.7 1639.5,388.4 C1641.0,388.1 1646.5,386.7 1647.3,387.7 C1648.1,388.7 1648.1,395.1 1648.0,398.3 C1647.9,401.5 1646.5,415.3 1646.6,419.5 C1646.7,423.7 1649.0,437.2 1648.7,440.7 C1648.4,444.2 1644.3,451.4 1643.7,454.9 C1643.1,458.4 1642.9,472.3 1643.0,476.1 C1643.1,479.9 1645.3,491.6 1644.5,493.1 C1643.7,494.6 1637.9,490.9 1635.3,490.9 C1632.7,490.9 1621.5,492.6 1618.3,493.1 C1615.1,493.6 1604.9,498.3 1603.4,495.9 C1601.9,493.5 1603.5,475.9 1603.4,469.0 C1603.3,462.1 1603.0,434.4 1602.7,426.6 C1602.4,418.8 1600.5,395.2 1600.6,391.2 C1600.7,387.2 1602.6,387.0 1603.4,386.3 Z" fill="#fff" stroke="#000" stroke-width="2.5" stroke-linejoin="round"/>
<path d="M1611.2,392.6 L1624,400.4 M1607,467.6 Q1609,480 1612.6,490.2 M1613.3,470.4 Q1620,482 1626.8,491.6" fill="none" stroke="#000" stroke-width="1.3" />
<path d="M1572.0,235.5 C1574.0,234.4 1578.8,233.8 1582.0,233.5 C1585.2,233.2 1588.9,233.0 1591.0,233.8 C1593.1,234.6 1593.4,232.9 1594.5,238.5 C1595.6,244.1 1596.9,257.9 1597.5,267.4 C1598.1,276.9 1598.5,283.9 1598.2,295.7 C1597.9,307.5 1595.9,326.4 1595.6,338.2 C1595.3,350.0 1595.6,357.9 1596.2,366.5 C1596.8,375.1 1598.3,376.4 1599.3,389.7 C1600.3,403.0 1601.9,427.4 1602.2,446.3 C1602.5,465.2 1601.2,489.2 1600.9,502.9 C1600.7,516.6 1601.9,523.4 1600.7,528.4 C1599.5,533.4 1596.6,531.9 1594.0,532.6 C1591.4,533.3 1588.3,533.0 1585.0,532.8 C1581.7,532.6 1576.2,536.5 1574.0,531.5 C1571.8,526.5 1571.5,517.1 1571.5,502.9 C1571.5,488.7 1573.0,464.3 1573.9,446.3 C1574.8,428.3 1576.4,410.7 1576.7,395.0 C1577.0,379.3 1576.7,365.3 1575.6,352.3 C1574.5,339.3 1571.2,328.3 1570.3,317.0 C1569.4,305.7 1569.1,292.7 1570.3,284.4 C1571.5,276.1 1576.0,271.9 1577.2,267.4 C1578.4,262.9 1578.7,262.1 1577.5,257.5 C1576.3,252.9 1571.1,243.7 1570.2,240.0 C1569.3,236.3 1570.0,236.6 1572.0,235.5 Z" fill="#fafafa" stroke="#000" stroke-width="2.5" stroke-linejoin="round"/>
<rect x="1595.5" y="627" width="88.5" height="309" rx="0" fill="#fefefb" stroke="#000" stroke-width="3" />
<line x1="1602.8" y1="627" x2="1602.8" y2="936" stroke="#000" stroke-width="2.5" />
<line x1="1596" y1="729.6" x2="1603" y2="729.6" stroke="#000" stroke-width="2" />
<line x1="1596" y1="833.2" x2="1603" y2="833.2" stroke="#000" stroke-width="2" />
<line x1="1640.2" y1="627" x2="1640.2" y2="936" stroke="#000" stroke-width="1.5" />
<line x1="1642.8" y1="627" x2="1642.8" y2="936" stroke="#000" stroke-width="1.5" />
<path d="M1609.8,635.1 L1639.8,635.1 M1643.3,635.1 L1676.6,635.1 M1609.8,642.6 L1639.8,642.6 M1643.3,642.6 L1676.6,642.6 M1609.8,654.9 L1639.8,651.9 M1643.3,651.6 L1676.6,648.3 M1609.8,662 L1639.8,659.5 M1643.3,659.2 L1676.6,656.5 M1609.8,668.8 L1639.8,668.8 M1643.3,668.8 L1676.6,668.8 M1609.8,685.5 L1639.8,681.8 M1643.3,681.4 L1676.6,677.3 M1609.8,696.4 L1639.8,696.4 M1643.3,696.4 L1676.6,696.4 M1609.8,709.8 L1639.8,707.0 M1643.3,706.6 L1676.6,703.5 M1609.8,716.6 L1639.8,714.3 M1643.3,714.0 L1676.6,711.5 M1609.8,723.7 L1639.8,723.7 M1643.3,723.7 L1676.6,723.7 M1609.8,741.9 L1639.8,738.0 M1643.3,737.5 L1676.6,733.2 M1609.8,748 L1639.8,748.0 M1643.3,748.0 L1676.6,748 M1609.8,765 L1639.8,761.2 M1643.3,760.7 L1676.6,756.5 M1609.8,775.6 L1639.8,775.8 M1643.3,775.8 L1676.6,776 M1609.8,788.8 L1639.8,786.1 M1643.3,785.8 L1676.6,782.8 M1609.8,795.9 L1639.8,793.6 M1643.3,793.3 L1676.6,790.8 M1609.8,802.8 L1639.8,802.8 M1643.3,802.8 L1676.6,802.8 M1609.8,821.4 L1639.8,817.6 M1643.3,817.1 L1676.6,812.9 M1609.8,827.1 L1639.8,827.1 M1643.3,827.1 L1676.6,827.1 M1609.8,844.1 L1639.8,840.3 M1643.3,839.9 L1676.6,835.7 M1609.8,855 L1639.8,855.1 M1643.3,855.2 L1676.6,855.3 M1609.8,868.5 L1639.8,865.4 M1643.3,865.1 L1676.6,861.7 M1609.8,875.3 L1639.8,872.9 M1643.3,872.6 L1676.6,870 M1609.8,882 L1639.8,882.0 M1643.3,882.0 L1676.6,882 M1609.8,889.8 L1639.8,892.2 M1643.3,892.5 L1676.6,895.1 M1609.8,897.8 L1639.8,900.3 M1643.3,900.6 L1676.6,903.4 M1609.8,909.5 L1639.8,909.6 M1643.3,909.7 L1676.6,909.8 M1609.8,919.6 L1639.8,919.8 M1643.3,919.8 L1676.6,920 " fill="none" stroke="#111" stroke-width="1.7" />
<rect x="772" y="643" width="280.29999999999995" height="96" rx="0" fill="#fefefb" stroke="#000" stroke-width="2.5" />
<line x1="772" y1="687.7" x2="1052.3" y2="687.7" stroke="#000" stroke-width="1.5" />
<line x1="772" y1="690.3" x2="1052.3" y2="690.3" stroke="#000" stroke-width="1.5" />
<line x1="772" y1="732" x2="1052.3" y2="732" stroke="#000" stroke-width="2.5" />
<line x1="912" y1="732" x2="912" y2="739" stroke="#000" stroke-width="2" />
<path d="M796.7,651.8 L796.7,724.9 M808.2,651.8 L819.7,724.9 M834.6,651.8 L833.8,724.9 M843.6,651.8 L852.3,724.9 M855.1,651.8 L862.1,724.9 M871.5,651.8 L871.5,724.9 M884.6,651.8 L896.7,724.9 M904.4,651.8 L904.4,724.9 M915.4,651.8 L927.4,724.9 M942.1,651.8 L942.1,724.9 M951.0,651.8 L959.5,724.9 M962.8,651.8 L969.2,724.9 M978.7,651.8 L978.7,724.9 M996.2,651.8 L990.3,724.9 M1007.7,651.8 L1000.5,724.9 M1015.9,651.8 L1015.9,724.9 M1030.0,651.8 L1030.0,724.9 " fill="none" stroke="#000" stroke-width="1.8" />
<rect x="197" y="644" width="279" height="45" fill="#fefefb"/>
<line x1="197" y1="689" x2="476" y2="689" stroke="#000" stroke-width="2" />
<path d="M226,729 Q235,728 243,721 Q251,714 262,713.6 M226,755 Q235,755 243,762.5 Q251,769.5 262,770" fill="none" stroke="#000" stroke-width="2" />
<rect x="226" y="729" width="14" height="26" fill="#fafafa"/>
<path d="M264.3,713.4 C282,713.4 305,728 305.5,741.7 C305,755.5 282,770 264.3,770 C247,770 236.9,758 236.9,741.7 C236.9,725.5 247,713.4 264.3,713.4 Z" fill="#f8f8f8" stroke="#000" stroke-width="2.5" />
<rect x="197.5" y="710.8" width="28.80000000000001" height="62.80000000000007" rx="4" fill="#f8f8f8" stroke="#000" stroke-width="2.5" />
<ellipse cx="209" cy="741.3" rx="4" ry="4.5" fill="none" stroke="#000" stroke-width="1.5"/>
<path d="M110,811.4 A131,123.5 0 0 1 241.3,935 L110,935 Z" fill="#fff" stroke="#000" stroke-width="3" />
<path d="M122.6,824 A107.8,102.7 0 0 1 230.4,926.7 L122.6,926.7 Z" fill="#f8f8f8" stroke="#000" stroke-width="2" />
<circle cx="141.4" cy="906.6" r="5" fill="none" stroke="#000" stroke-width="1.8"/>
<path d="M128.4,906.6 H136.4 M146.4,906.6 H154.4 M141.4,894 V901.6 M141.4,911.6 V919" fill="none" stroke="#000" stroke-width="1.8" />
<path d="M271.7,935 V912.9 A45,35 0 0 1 361.9,912.9 V935" fill="#fff" stroke="#000" stroke-width="3" />
<path d="M281.7,924.2 V912.9 A35.7,28 0 0 1 353.1,912.9 V924.2 Z" fill="#f8f8f8" stroke="#000" stroke-width="2" />
<ellipse cx="316.8" cy="904.1" rx="3.8" ry="3" fill="#fff" stroke="#000" stroke-width="1.5"/>
<line x1="316.8" y1="911.6" x2="316.8" y2="933" stroke="#000" stroke-width="3.5" />
<circle cx="316.8" cy="924.2" r="3.8" fill="#fff" stroke="#000" stroke-width="1.5"/>
<rect x="393.2" y="855" width="82.69999999999999" height="81" rx="0" fill="#fff" stroke="#000" stroke-width="3" />
<path d="M414.2,920.1 L432.3,893.2 L435.4,906.9 L453.5,880.8 M441.6,890.5 L453.5,880.8 L448.7,895.4" fill="none" stroke="#000" stroke-width="1.5" />
<path d="M525.0,630.0 A128,128 0 0 1 562.5,539.5 L653,630" fill="none" stroke="#000" stroke-width="1.3" />
<path d="M1057.5,630.0 A127.5,127.5 0 0 1 1095.6,539.1 L1185,630" fill="none" stroke="#000" stroke-width="1.3" />
<path d="M491.0,733.0 A113,113 0 0 1 575.2,770.7 L491,846" fill="none" stroke="#000" stroke-width="1.3" />
<path d="M1257.0,749.0 A130,130 0 0 1 1348.1,786.3 L1257,879" fill="none" stroke="#000" stroke-width="1.3" />
<path d="M995.0,966.0 A145,145 0 0 0 1035.7,1066.7 L1140,966" fill="none" stroke="#000" stroke-width="1.3" />
<rect x="789" y="749.5" width="190" height="161.5" rx="0" fill="#fff" stroke="#000" stroke-width="2.5" />
<line x1="789" y1="803.5" x2="979" y2="803.5" stroke="#000" stroke-width="2.5" />
<line x1="842.5" y1="803.5" x2="842.5" y2="911" stroke="#000" stroke-width="2.5" />
<line x1="842.5" y1="857" x2="979" y2="857" stroke="#000" stroke-width="2.5" />
<path transform="translate(434.95,544.95) scale(1.0000)" d="M4.8,5.5 L9.8,0 V23.5" fill="none" stroke="#000" stroke-width="2.700" stroke-linecap="round" stroke-linejoin="round"/><path transform="translate(451.95,544.95) scale(1.0000)" d="M0.2,5 C0.8,1.8 2.6,0 4.9,0 C7.7,0 9.6,2.2 9.6,5.4 C9.6,7.8 8.8,9.6 7.6,11.3 L0,23.5 H9.8" fill="none" stroke="#000" stroke-width="2.700" stroke-linecap="round" stroke-linejoin="round"/><path transform="translate(468.95,544.95) scale(1.0000)" d="M1.6,21.3 L0.4,28.5" fill="none" stroke="#000" stroke-width="2.700" stroke-linecap="round" stroke-linejoin="round"/><path transform="translate(477.05,544.95) scale(1.0000)" d="M2,23.5 C6.6,21 9.6,16.5 9.6,9.5 V7.7 C9.6,2.9 7.6,0 4.8,0 C2,0 0,2.9 0,7.2 C0,11.3 2,13.7 4.8,13.7 C7.4,13.7 9.2,11.7 9.6,9" fill="none" stroke="#000" stroke-width="2.700" stroke-linecap="round" stroke-linejoin="round"/><path transform="translate(494.05,544.95) scale(1.0000)" d="M4.8,10.2 C2.3,10.2 0.8,8.2 0.8,5.2 C0.8,2.1 2.4,0 4.8,0 C7.2,0 8.8,2.1 8.8,5.2 C8.8,8.2 7.3,10.2 4.8,10.2 C2,10.2 0,12.6 0,16.6 C0,20.8 2,23.5 4.8,23.5 C7.6,23.5 9.6,20.8 9.6,16.6 C9.6,12.6 7.6,10.2 4.8,10.2 Z" fill="none" stroke="#000" stroke-width="2.700" stroke-linecap="round" stroke-linejoin="round"/>
<line x1="435.5" y1="574.8" x2="507.6" y2="574.8" stroke="#000" stroke-width="3.2" />
<path transform="translate(1115.75,498.55) scale(1.0000)" d="M4.8,5.5 L9.8,0 V23.5" fill="none" stroke="#000" stroke-width="2.700" stroke-linecap="round" stroke-linejoin="round"/><path transform="translate(1132.75,498.55) scale(1.0000)" d="M0.2,5 C0.8,1.8 2.6,0 4.9,0 C7.7,0 9.6,2.2 9.6,5.4 C9.6,7.8 8.8,9.6 7.6,11.3 L0,23.5 H9.8" fill="none" stroke="#000" stroke-width="2.700" stroke-linecap="round" stroke-linejoin="round"/><path transform="translate(1149.75,498.55) scale(1.0000)" d="M1.6,21.3 L0.4,28.5" fill="none" stroke="#000" stroke-width="2.700" stroke-linecap="round" stroke-linejoin="round"/><path transform="translate(1157.85,498.55) scale(1.0000)" d="M2,23.5 C6.6,21 9.6,16.5 9.6,9.5 V7.7 C9.6,2.9 7.6,0 4.8,0 C2,0 0,2.9 0,7.2 C0,11.3 2,13.7 4.8,13.7 C7.4,13.7 9.2,11.7 9.6,9" fill="none" stroke="#000" stroke-width="2.700" stroke-linecap="round" stroke-linejoin="round"/><path transform="translate(1174.85,498.55) scale(1.0000)" d="M0,3 V0 H9.6 L4.2,23.5" fill="none" stroke="#000" stroke-width="2.700" stroke-linecap="round" stroke-linejoin="round"/>
<line x1="1116.7" y1="529.5" x2="1188.2" y2="529.5" stroke="#000" stroke-width="3.2" />
<path transform="translate(1115.75,858.55) scale(1.0000)" d="M4.8,5.5 L9.8,0 V23.5" fill="none" stroke="#000" stroke-width="2.700" stroke-linecap="round" stroke-linejoin="round"/><path transform="translate(1132.75,858.55) scale(1.0000)" d="M4.8,0 C1.5,0 0,3.5 0,8 V15.5 C0,20 1.5,23.5 4.8,23.5 C8.1,23.5 9.6,20 9.6,15.5 V8 C9.6,3.5 8.1,0 4.8,0 Z" fill="none" stroke="#000" stroke-width="2.700" stroke-linecap="round" stroke-linejoin="round"/><path transform="translate(1149.75,858.55) scale(1.0000)" d="M1.6,21.3 L0.4,28.5" fill="none" stroke="#000" stroke-width="2.700" stroke-linecap="round" stroke-linejoin="round"/><path transform="translate(1157.85,858.55) scale(1.0000)" d="M5.2,0 L0,19 H11.6 M8.2,12.4 V23.5" fill="none" stroke="#000" stroke-width="2.700" stroke-linecap="round" stroke-linejoin="round"/><path transform="translate(1174.85,858.55) scale(1.0000)" d="M4.8,5.5 L9.8,0 V23.5" fill="none" stroke="#000" stroke-width="2.700" stroke-linecap="round" stroke-linejoin="round"/>
<line x1="1116.7" y1="889.3" x2="1185.7" y2="889.3" stroke="#000" stroke-width="3.2" />
<path transform="translate(1477.95,858.55) scale(1.0000)" d="M4.8,5.5 L9.8,0 V23.5" fill="none" stroke="#000" stroke-width="2.700" stroke-linecap="round" stroke-linejoin="round"/><path transform="translate(1494.95,858.55) scale(1.0000)" d="M0,3 V0 H9.6 L4.2,23.5" fill="none" stroke="#000" stroke-width="2.700" stroke-linecap="round" stroke-linejoin="round"/><path transform="translate(1511.95,858.55) scale(1.0000)" d="M1.6,21.3 L0.4,28.5" fill="none" stroke="#000" stroke-width="2.700" stroke-linecap="round" stroke-linejoin="round"/><path transform="translate(1520.05,858.55) scale(1.0000)" d="M0.2,5 C0.8,1.8 2.6,0 4.9,0 C7.7,0 9.6,2.2 9.6,5.4 C9.6,7.8 8.8,9.6 7.6,11.3 L0,23.5 H9.8" fill="none" stroke="#000" stroke-width="2.700" stroke-linecap="round" stroke-linejoin="round"/><path transform="translate(1537.05,858.55) scale(1.0000)" d="M2,23.5 C6.6,21 9.6,16.5 9.6,9.5 V7.7 C9.6,2.9 7.6,0 4.8,0 C2,0 0,2.9 0,7.2 C0,11.3 2,13.7 4.8,13.7 C7.4,13.7 9.2,11.7 9.6,9" fill="none" stroke="#000" stroke-width="2.700" stroke-linecap="round" stroke-linejoin="round"/>
<line x1="1479.5" y1="889.3" x2="1551" y2="889.3" stroke="#000" stroke-width="3.2" />
<path transform="translate(376.85,782.75) scale(1.0000)" d="M5.2,0 L0,19 H11.6 M8.2,12.4 V23.5" fill="none" stroke="#000" stroke-width="2.700" stroke-linecap="round" stroke-linejoin="round"/><path transform="translate(393.85,782.75) scale(1.0000)" d="M1.6,21.3 L0.4,28.5" fill="none" stroke="#000" stroke-width="2.700" stroke-linecap="round" stroke-linejoin="round"/><path transform="translate(401.95,782.75) scale(1.0000)" d="M7.6,0 C3,2.5 0,7 0,14 V15.8 C0,20.6 2,23.5 4.8,23.5 C7.6,23.5 9.6,20.6 9.6,16.3 C9.6,12.2 7.6,9.8 4.8,9.8 C2.2,9.8 0.4,11.8 0,14.5" fill="none" stroke="#000" stroke-width="2.700" stroke-linecap="round" stroke-linejoin="round"/><path transform="translate(418.95,782.75) scale(1.0000)" d="M4.8,0 C1.5,0 0,3.5 0,8 V15.5 C0,20 1.5,23.5 4.8,23.5 C8.1,23.5 9.6,20 9.6,15.5 V8 C9.6,3.5 8.1,0 4.8,0 Z" fill="none" stroke="#000" stroke-width="2.700" stroke-linecap="round" stroke-linejoin="round"/>
<line x1="373" y1="813.3" x2="434.9" y2="813.3" stroke="#000" stroke-width="3.2" />
<path transform="translate(850.25,765.95) scale(0.9915)" d="M0,23.5 V0 L11.7,23.5 V0" fill="none" stroke="#000" stroke-width="2.723" stroke-linecap="round" stroke-linejoin="round"/>
<ellipse cx="871.2" cy="771.5" rx="3.2" ry="4" fill="none" stroke="#000" stroke-width="3"/>
<path transform="translate(883.15,765.95) scale(0.9915)" d="M5.2,0 L0,19 H11.6 M8.2,12.4 V23.5" fill="none" stroke="#000" stroke-width="2.723" stroke-linecap="round" stroke-linejoin="round"/><path transform="translate(903.97,765.95) scale(0.9915)" d="M4.8,10.2 C2.3,10.2 0.8,8.2 0.8,5.2 C0.8,2.1 2.4,0 4.8,0 C7.2,0 8.8,2.1 8.8,5.2 C8.8,8.2 7.3,10.2 4.8,10.2 C2,10.2 0,12.6 0,16.6 C0,20.8 2,23.5 4.8,23.5 C7.6,23.5 9.6,20.8 9.6,16.6 C9.6,12.6 7.6,10.2 4.8,10.2 Z" fill="none" stroke="#000" stroke-width="2.723" stroke-linecap="round" stroke-linejoin="round"/>
<path transform="translate(810.85,845.05) scale(0.9915)" d="M0.2,5 C0.8,1.8 2.6,0 4.9,0 C7.7,0 9.6,2.2 9.6,5.4 C9.6,7.8 8.8,9.6 7.6,11.3 L0,23.5 H9.8" fill="none" stroke="#000" stroke-width="2.723" stroke-linecap="round" stroke-linejoin="round"/>
<path transform="translate(855.75,820.05) scale(0.9915)" d="M0.6,0 H9.2 L3.8,9 C7.6,9 9.6,11.8 9.6,16 C9.6,20.6 7.6,23.5 4.6,23.5 C2.4,23.5 1,22.3 0,20.5" fill="none" stroke="#000" stroke-width="2.723" stroke-linecap="round" stroke-linejoin="round"/><path transform="translate(872.61,820.05) scale(0.9915)" d="M4.8,0 C1.5,0 0,3.5 0,8 V15.5 C0,20 1.5,23.5 4.8,23.5 C8.1,23.5 9.6,20 9.6,15.5 V8 C9.6,3.5 8.1,0 4.8,0 Z" fill="none" stroke="#000" stroke-width="2.723" stroke-linecap="round" stroke-linejoin="round"/><path transform="translate(889.46,820.05) scale(0.9915)" d="M1.6,21.3 L0.4,28.5" fill="none" stroke="#000" stroke-width="2.723" stroke-linecap="round" stroke-linejoin="round"/><path transform="translate(897.49,820.05) scale(0.9915)" d="M0.2,5 C0.8,1.8 2.6,0 4.9,0 C7.7,0 9.6,2.2 9.6,5.4 C9.6,7.8 8.8,9.6 7.6,11.3 L0,23.5 H9.8" fill="none" stroke="#000" stroke-width="2.723" stroke-linecap="round" stroke-linejoin="round"/><path transform="translate(914.35,820.05) scale(0.9915)" d="M7.6,0 C3,2.5 0,7 0,14 V15.8 C0,20.6 2,23.5 4.8,23.5 C7.6,23.5 9.6,20.6 9.6,16.3 C9.6,12.2 7.6,9.8 4.8,9.8 C2.2,9.8 0.4,11.8 0,14.5" fill="none" stroke="#000" stroke-width="2.723" stroke-linecap="round" stroke-linejoin="round"/>
<path transform="translate(855.75,874.15) scale(0.9915)" d="M9,0 H1.2 L0.5,9.5 C1.6,8.6 3,8.2 4.7,8.2 C7.8,8.2 9.6,11 9.6,15.6 C9.6,20.4 7.6,23.5 4.6,23.5 C2.4,23.5 1,22.4 0,20.5" fill="none" stroke="#000" stroke-width="2.723" stroke-linecap="round" stroke-linejoin="round"/><path transform="translate(872.61,874.15) scale(0.9915)" d="M4.8,10.2 C2.3,10.2 0.8,8.2 0.8,5.2 C0.8,2.1 2.4,0 4.8,0 C7.2,0 8.8,2.1 8.8,5.2 C8.8,8.2 7.3,10.2 4.8,10.2 C2,10.2 0,12.6 0,16.6 C0,20.8 2,23.5 4.8,23.5 C7.6,23.5 9.6,20.8 9.6,16.6 C9.6,12.6 7.6,10.2 4.8,10.2 Z" fill="none" stroke="#000" stroke-width="2.723" stroke-linecap="round" stroke-linejoin="round"/><path transform="translate(889.46,874.15) scale(0.9915)" d="M1.6,21.3 L0.4,28.5" fill="none" stroke="#000" stroke-width="2.723" stroke-linecap="round" stroke-linejoin="round"/><path transform="translate(897.49,874.15) scale(0.9915)" d="M0.2,5 C0.8,1.8 2.6,0 4.9,0 C7.7,0 9.6,2.2 9.6,5.4 C9.6,7.8 8.8,9.6 7.6,11.3 L0,23.5 H9.8" fill="none" stroke="#000" stroke-width="2.723" stroke-linecap="round" stroke-linejoin="round"/><path transform="translate(914.35,874.15) scale(0.9915)" d="M7.6,0 C3,2.5 0,7 0,14 V15.8 C0,20.6 2,23.5 4.8,23.5 C7.6,23.5 9.6,20.6 9.6,16.3 C9.6,12.2 7.6,9.8 4.8,9.8 C2.2,9.8 0.4,11.8 0,14.5" fill="none" stroke="#000" stroke-width="2.723" stroke-linecap="round" stroke-linejoin="round"/>
<path transform="translate(940.65,820.05) scale(0.9915)" d="M0,23.5 V7 L6.2,19.5 L12.4,7 V23.5" fill="none" stroke="#000" stroke-width="2.723" stroke-linecap="round" stroke-linejoin="round"/>
<path transform="translate(961.2,812.5) scale(0.55)" d="M0.2,5 C0.8,1.8 2.6,0 4.9,0 C7.7,0 9.6,2.2 9.6,5.4 C9.6,7.8 8.8,9.6 7.6,11.3 L0,23.5 H9.8" fill="none" stroke="#000" stroke-width="4.91" stroke-linecap="round" stroke-linejoin="round"/>
<path transform="translate(940.65,874.15) scale(0.9915)" d="M0,23.5 V7 L6.2,19.5 L12.4,7 V23.5" fill="none" stroke="#000" stroke-width="2.723" stroke-linecap="round" stroke-linejoin="round"/>
<path transform="translate(961.2,866.5999999999999) scale(0.55)" d="M0.2,5 C0.8,1.8 2.6,0 4.9,0 C7.7,0 9.6,2.2 9.6,5.4 C9.6,7.8 8.8,9.6 7.6,11.3 L0,23.5 H9.8" fill="none" stroke="#000" stroke-width="4.91" stroke-linecap="round" stroke-linejoin="round"/>
</svg></body></html>
